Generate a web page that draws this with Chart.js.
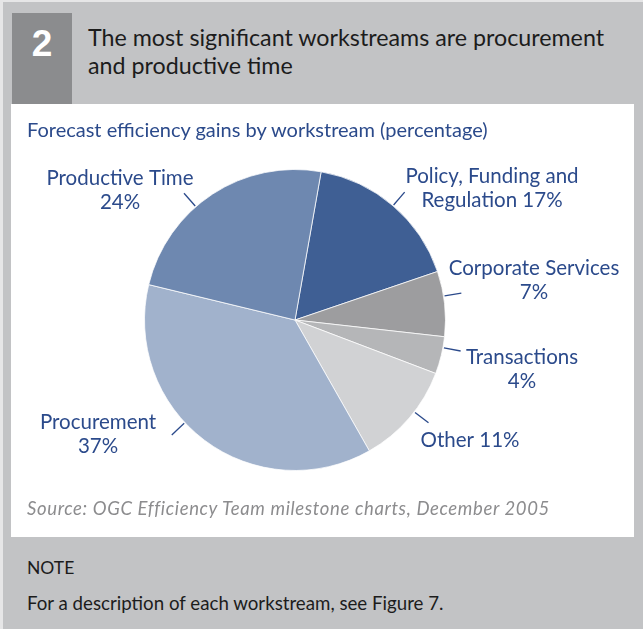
<!DOCTYPE html>
<html>
<head>
<meta charset="utf-8">
<script src="https://cdn.jsdelivr.net/npm/chart.js@4/dist/chart.umd.min.js"></script>
<style>
  html, body { margin: 0; padding: 0; }
  body { width: 643px; height: 629px; background: #e6e6e7; position: relative; overflow: hidden; font-family: Lato, "Open Sans", sans-serif; }
  #frame { position: absolute; left: 3px; top: 2px; width: 640px; height: 627px; background: #c2c3c5; }
  #num { position: absolute; left: 12px; top: 13px; width: 60px; height: 91px; background: #8b8c8e; }
  #num span { position: absolute; left: 0; width: 60px; top: 10px; text-align: center; color: #fff; font: bold 37px "Liberation Sans", Arial, sans-serif; }
  #title { position: absolute; left: 88px; top: 23px; color: #1c1c1c; font-size: 23.25px; line-height: 28px; white-space: nowrap; }
  #panel { position: absolute; left: 11px; top: 104px; width: 623px; height: 433px; background: #fff; }
  #subtitle { position: absolute; left: 16px; top: 13px; color: #2b4a8b; font-size: 20px; white-space: nowrap; }
  #source { position: absolute; left: 16px; top: 393px; color: #8c8c8e; font-size: 18.5px; letter-spacing: 0.63px; font-style: italic; white-space: nowrap; }
  #chartBox { position: absolute; left: 0; top: 0; width: 623px; height: 433px; }
  #note { position: absolute; left: 27px; top: 557px; color: #1c1c1c; font-size: 17.5px; }
  #desc { position: absolute; left: 27px; top: 592px; color: #1c1c1c; font-size: 18.7px; white-space: nowrap; }
</style>
</head>
<body>
<div id="frame"></div>
<div id="num"><span>2</span></div>
<div id="title">The most significant workstreams are procurement<br>and productive time</div>
<div id="panel">
  <div id="chartBox"><canvas id="pie" width="623" height="433"></canvas></div>
  <div id="subtitle">Forecast efficiency gains by workstream (percentage)</div>
  <div id="source">Source: OGC Efficiency Team milestone charts, December 2005</div>
</div>
<div id="note">NOTE</div>
<div id="desc">For a description of each workstream, see Figure 7.</div>

<script>
// Workstreams, clockwise from just right of twelve o'clock
const workstreams = ['Policy, Funding and Regulation', 'Corporate Services', 'Transactions', 'Other', 'Procurement', 'Productive Time'];
const gains = [17, 7, 4, 11, 37, 24];

// Label text lines; the percentage comes from the gains array
const labelLines = [
  v => ['Policy, Funding and', 'Regulation ' + v + '%'],
  v => ['Corporate Services', v + '%'],
  v => ['Transactions', v + '%'],
  v => ['Other ' + v + '%'],
  v => ['Procurement', v + '%'],
  v => ['Productive Time', v + '%']
];

// Label layout: text block offset from the pie centre, and leader angle tweak (deg)
const labelLayout = [
  { dx: 197, dy: -144, tweak: 0 },
  { dx: 239, dy: -52, tweak: -3 },
  { dx: 227, dy: 37, tweak: -3 },
  { dx: 175, dy: 120, tweak: -3 },
  { dx: -197, dy: 102, tweak: 10 },
  { dx: -175, dy: -142, tweak: -8 }
];

const sliceColors = ['#3f5f94', '#9d9d9f', '#b5b6b8', '#d1d2d4', '#a1b2cc', '#6e88b0'];
const labelColor = '#2b4a8b';

const calloutPlugin = {
  id: 'callouts',
  afterDatasetsDraw(chart) {
    const ctx = chart.ctx;
    const meta = chart.getDatasetMeta(0);
    ctx.save();
    ctx.strokeStyle = labelColor;
    ctx.fillStyle = labelColor;
    ctx.lineWidth = 1.3;
    ctx.font = '20.5px Lato, "Open Sans", sans-serif';
    ctx.textAlign = 'center';
    ctx.textBaseline = 'middle';
    meta.data.forEach((arc, i) => {
      const p = arc.getProps(['x', 'y', 'startAngle', 'endAngle', 'outerRadius'], true);
      const lay = labelLayout[i];
      const a = (p.startAngle + p.endAngle) / 2 + lay.tweak * Math.PI / 180;
      const r0 = p.outerRadius + 1, r1 = p.outerRadius + 18;
      ctx.beginPath();
      ctx.moveTo(p.x + r0 * Math.cos(a), p.y + r0 * Math.sin(a));
      ctx.lineTo(p.x + r1 * Math.cos(a), p.y + r1 * Math.sin(a));
      ctx.stroke();
      const lines = labelLines[i](gains[i]);
      lines.forEach((t, k) => {
        ctx.fillText(t, p.x + lay.dx, p.y + lay.dy + k * 24);
      });
    });
    ctx.restore();
  }
};

new Chart(document.getElementById('pie'), {
  type: 'pie',
  data: {
    labels: workstreams,
    datasets: [{
      data: gains,
      backgroundColor: sliceColors,
      borderColor: 'rgba(255,255,255,0.75)',
      borderWidth: 1
    }]
  },
  options: {
    responsive: false,
    animation: false,
    rotation: 10,
    layout: { padding: { left: 133, right: 188, top: 65, bottom: 66 } },
    plugins: { legend: { display: false }, tooltip: { enabled: false } }
  },
  plugins: [calloutPlugin]
});
</script>
</body>
</html>
